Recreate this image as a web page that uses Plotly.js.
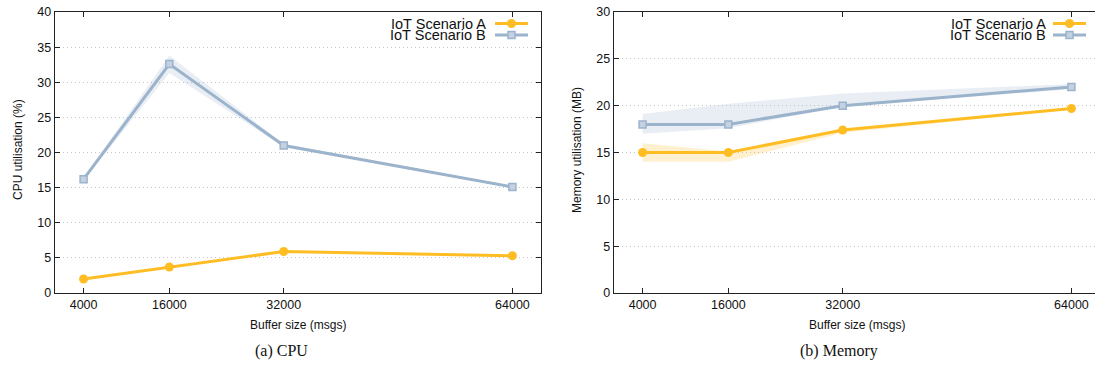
<!DOCTYPE html>
<html>
<head>
<meta charset="utf-8">
<script src="https://cdn.plot.ly/plotly-3.0.1.min.js"></script>
<style>
  html, body { margin: 0; padding: 0; overflow: hidden; background: #fff; }
  #chart { width: 1101px; height: 365px; }
</style>
</head>
<body>
<div id="chart"></div>
<script>
// ---- data ----
const bufferSizes = [4000, 16000, 32000, 64000];
const xTickLabels = ['4000', '16000', '32000', '64000'];
const seriesNames = ['IoT Scenario A', 'IoT Scenario B'];

const cpuA = [2.0, 3.7, 5.9, 5.3];
const cpuA_lo = [1.9, 3.6, 5.8, 5.2];
const cpuA_hi = [2.1, 3.8, 6.0, 5.4];
const cpuB = [16.2, 32.6, 21.0, 15.1];
const cpuB_lo = [16.0, 31.3, 20.8, 15.0];
const cpuB_hi = [16.4, 33.8, 21.2, 15.2];

const memA = [15.0, 15.0, 17.4, 19.7];
const memA_lo = [14.0, 14.0, 17.1, 19.6];
const memA_hi = [16.0, 15.1, 17.5, 19.8];
const memB = [18.0, 18.0, 20.0, 22.0];
const memB_lo = [17.0, 17.6, 19.9, 21.75];
const memB_hi = [19.1, 20.2, 21.3, 22.3];

// ---- styles ----
const colA = '#ffbd24';
const colB = '#9cb3cc';
const bandA = 'rgba(255,189,36,0.22)';
const bandB = 'rgba(156,179,204,0.22)';
const sansFont = 'Liberation Sans, Arial, Helvetica, sans-serif';
const serifFont = 'Liberation Serif, Times New Roman, serif';

function bands(lo, hi, fillcol, xa, ya) {
  return [
    {x: bufferSizes, y: lo, xaxis: xa, yaxis: ya, mode: 'lines', line: {width: 0, color: fillcol}, showlegend: false, hoverinfo: 'skip'},
    {x: bufferSizes, y: hi, xaxis: xa, yaxis: ya, mode: 'lines', line: {width: 0, color: fillcol}, fill: 'tonexty', fillcolor: fillcol, showlegend: false, hoverinfo: 'skip'}
  ];
}
function lineA(y, xa, ya) {
  return {x: bufferSizes, y: y, xaxis: xa, yaxis: ya, mode: 'lines+markers', name: seriesNames[0],
    line: {color: colA, width: 3}, marker: {symbol: 'circle', size: 9, color: colA}, showlegend: false};
}
function lineB(y, xa, ya) {
  return {x: bufferSizes, y: y, xaxis: xa, yaxis: ya, mode: 'lines+markers', name: seriesNames[1],
    line: {color: colB, width: 3}, marker: {symbol: 'square', size: 7, color: '#c3d1e1', line: {color: colB, width: 1.5}}, showlegend: false};
}

const traces = [].concat(
  bands(cpuA_lo, cpuA_hi, bandA, 'x', 'y'),
  bands(cpuB_lo, cpuB_hi, bandB, 'x', 'y'),
  bands(memA_lo, memA_hi, bandA, 'x2', 'y2'),
  bands(memB_lo, memB_hi, bandB, 'x2', 'y2'),
  [lineA(cpuA, 'x', 'y'), lineB(cpuB, 'x', 'y'), lineA(memA, 'x2', 'y2'), lineB(memB, 'x2', 'y2')]
);

const W = 1101, H = 365;
const yDom = [(H - 293) / H, (H - 12) / H];

function xAxis(dom, anchor) {
  return {
    domain: dom, anchor: anchor, range: [0, 68000], tickvals: bufferSizes, ticktext: xTickLabels,
    showgrid: false, zeroline: false, showline: true, linecolor: '#222', linewidth: 1.3, mirror: 'ticks',
    ticks: 'inside', ticklen: 5, tickcolor: '#222', tickfont: {family: sansFont, size: 12.5, color: '#111'}
  };
}
function yAxis(anchor, max) {
  return {
    domain: yDom, anchor: anchor, range: [0, max], dtick: 5,
    showgrid: true, gridcolor: '#c4c4c4', griddash: '1px,3px', gridwidth: 1, zeroline: false,
    showline: true, linecolor: '#222', linewidth: 1.3, mirror: 'ticks',
    ticks: 'inside', ticklen: 5, tickcolor: '#222', tickfont: {family: sansFont, size: 12.5, color: '#111'}
  };
}

const annFont = {family: sansFont, size: 12, color: '#111'};
const capFont = {family: serifFont, size: 16, color: '#111'};
const annotations = [
  {text: 'CPU utilisation (%)', x: 18 / W, y: (H - 150) / H, xref: 'paper', yref: 'paper', textangle: -90, showarrow: false, font: annFont, xanchor: 'center', yanchor: 'middle'},
  {text: 'Buffer size (msgs)', x: 298 / W, y: (H - 325) / H, xref: 'paper', yref: 'paper', showarrow: false, font: annFont, xanchor: 'center', yanchor: 'middle'},
  {text: '(a) CPU', x: 281 / W, y: (H - 351) / H, xref: 'paper', yref: 'paper', showarrow: false, font: capFont, xanchor: 'center', yanchor: 'middle'},
  {text: 'Memory utilisation (MB)', x: 577 / W, y: (H - 150) / H, xref: 'paper', yref: 'paper', textangle: -90, showarrow: false, font: annFont, xanchor: 'center', yanchor: 'middle'},
  {text: 'Buffer size (msgs)', x: 856.5 / W, y: (H - 325) / H, xref: 'paper', yref: 'paper', showarrow: false, font: annFont, xanchor: 'center', yanchor: 'middle'},
  {text: '(b) Memory', x: 839 / W, y: (H - 351) / H, xref: 'paper', yref: 'paper', showarrow: false, font: capFont, xanchor: 'center', yanchor: 'middle'}
];
const shapes = [];
// custom legends (text right, sample on right)
[[487, 495, 528], [1047, 1053, 1086]].forEach(function (p) {
  [[seriesNames[0], 23.5, colA, 'circle'], [seriesNames[1], 35, colB, 'square']].forEach(function (e) {
    annotations.push({text: e[0], x: p[0] / W, y: (H - e[1]) / H, xref: 'paper', yref: 'paper', showarrow: false, borderpad: 0,
      font: {family: sansFont, size: 14.5, color: '#111'}, xanchor: 'right', yanchor: 'middle'});
    shapes.push({type: 'line', xref: 'paper', yref: 'paper', x0: p[1] / W, x1: p[2] / W, y0: (H - e[1]) / H, y1: (H - e[1]) / H, line: {color: e[2], width: 3}});
    const cx = (p[1] + p[2]) / 2, cy = e[1];
    if (e[3] === 'circle') {
      shapes.push({type: 'circle', xref: 'paper', yref: 'paper', x0: (cx - 4.5) / W, x1: (cx + 4.5) / W, y0: (H - cy - 4.5) / H, y1: (H - cy + 4.5) / H, fillcolor: e[2], line: {width: 0}});
    } else {
      shapes.push({type: 'rect', xref: 'paper', yref: 'paper', x0: (cx - 3.5) / W, x1: (cx + 3.5) / W, y0: (H - cy - 3.5) / H, y1: (H - cy + 3.5) / H, fillcolor: '#c3d1e1', line: {color: e[2], width: 1.5}});
    }
  });
});

const layout = {
  width: W, height: H,
  margin: {l: 0, r: 0, t: 0, b: 0, pad: 0},
  paper_bgcolor: '#fff', plot_bgcolor: '#fff',
  showlegend: false,
  xaxis: xAxis([55 / W, 541 / W], 'y'),
  yaxis: yAxis('x', 40),
  xaxis2: xAxis([614 / W, 1100 / W], 'y2'),
  yaxis2: yAxis('x2', 30),
  annotations: annotations,
  shapes: shapes,
  font: {family: sansFont}
};

Plotly.newPlot('chart', traces, layout, {staticPlot: true, displayModeBar: false});
</script>
</body>
</html>
